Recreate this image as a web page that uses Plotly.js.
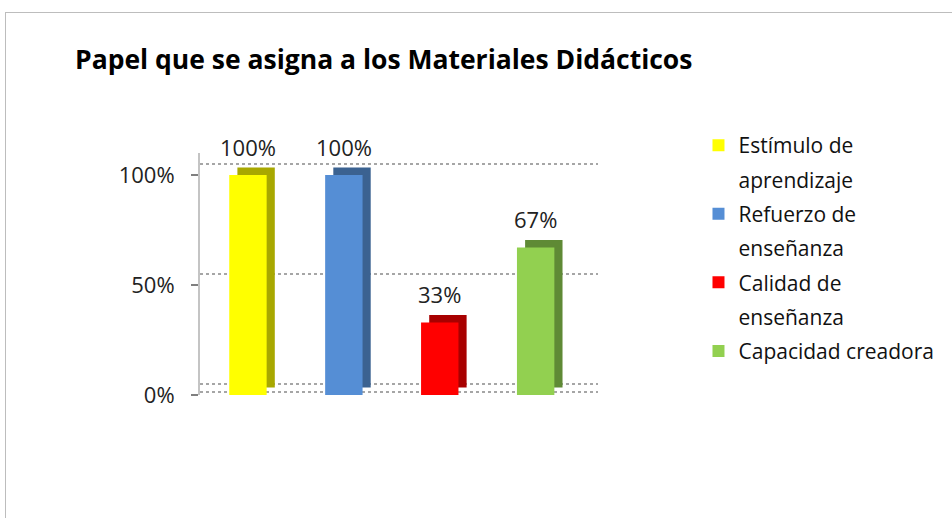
<!DOCTYPE html>
<html><head><meta charset="utf-8">
<script src="https://cdn.plot.ly/plotly-3.0.1.min.js"></script>
<style>
html,body{margin:0;padding:0;background:#fff;}
#frame{position:absolute;left:5px;top:12px;width:947px;height:506px;border-left:1px solid #bdbdbd;border-top:1px solid #bdbdbd;}
#chart{position:absolute;left:0;top:0;width:952px;height:518px;}
</style></head>
<body>
<div id="frame"></div>
<div id="chart"></div>
<script>
const categories = ["Estímulo de<br>aprendizaje", "Refuerzo de<br>enseñanza", "Calidad de<br>enseñanza", "Capacidad creadora"];
const values = [100, 100, 33, 67];
const labels = ["100%", "100%", "33%", "67%"];
const frontColors = ["#FFFF00", "#558ED5", "#FF0000", "#92D050"];
const sideColors = ["#A8A800", "#3B6291", "#A80000", "#5F8A35"];
const yTicks = [0, 50, 100];
const yTickText = ["0%", "50%", "100%"];

const W = 0.39, SHIFT = 0.085, DEPTH = 3.4;
const FONT = 'Open Sans';
const traces = [];
// side / top faces behind the bars
categories.forEach((c, i) => {
  traces.push({
    type: 'bar', x: [i], y: [values[i]], base: [DEPTH],
    width: W, offset: -W/2 + SHIFT,
    marker: {color: sideColors[i], line: {width: 0}},
    showlegend: false, hoverinfo: 'skip'
  });
});
// front faces; legend shows the first line of each name, continuation lines as text-only items
let rank = 1;
categories.forEach((c, i) => {
  const lines = c.split('<br>');
  traces.push({
    type: 'bar', x: [i], y: [values[i]], name: lines[0],
    width: W, offset: -W/2,
    marker: {color: frontColors[i], line: {width: 0}},
    legendgroup: 'g' + i + 'a', legendrank: rank++, hoverinfo: 'skip'
  });
  lines.slice(1).forEach((ln, k) => {
    traces.push({
      type: 'bar', x: [i], y: [0], name: ln, width: W, offset: -W/2,
      marker: {color: 'rgba(0,0,0,0)', line: {width: 0}},
      legendgroup: 'g' + i + 'b' + k, legendrank: rank++, hoverinfo: 'skip'
    });
  });
});
traces.push({type: 'scatter', x: [], y: [], yaxis: 'y2', showlegend: false, hoverinfo: 'skip'});
traces.push({type: 'scatter', x: [], y: [], yaxis: 'y3', showlegend: false, hoverinfo: 'skip'});

const annotations = values.map((v, i) => ({
  x: i, y: v + DEPTH, xref: 'x', yref: 'y', text: labels[i],
  showarrow: false, yanchor: 'bottom', yshift: 4,
  font: {family: FONT, size: 22, color: '#222'}
}));

const yRange = [0, 110];
const gridShift = 4.8;
const plotW = 404;
const layout = {
  width: 952, height: 518,
  paper_bgcolor: 'rgba(0,0,0,0)', plot_bgcolor: 'rgba(0,0,0,0)',
  margin: {l: 200, r: 952 - 200 - plotW, t: 153, b: 123},
  barmode: 'overlay',
  title: {text: 'Papel que se asigna a los Materiales Didácticos',
    font: {family: FONT, size: 26.5, color: '#000', weight: 'bold'},
    xref: 'container', yref: 'container', x: 75/952, xanchor: 'left', y: 1 - 60/518, yanchor: 'middle'},
  xaxis: {range: [-0.5, 3.65], showticklabels: false, showgrid: false, zeroline: false, showline: false, fixedrange: true},
  yaxis: {range: yRange, tickvals: yTicks, ticktext: yTickText,
    showgrid: false, zeroline: false,
    showline: true, linecolor: '#c4c4c4', linewidth: 2,
    ticks: 'outside', ticklen: 7, tickcolor: '#7f7f7f', tickwidth: 2, ticklabelstandoff: 12,
    tickfont: {family: FONT, size: 22, color: '#222'}, fixedrange: true},
  yaxis2: {overlaying: 'y', range: [yRange[0] - gridShift, yRange[1] - gridShift], tickvals: yTicks,
    showticklabels: false, ticks: '', showgrid: true, gridcolor: '#a6a6a6', gridwidth: 2, griddash: 'dot',
    zeroline: false, showline: false, fixedrange: true},
  yaxis3: {overlaying: 'y', range: [yRange[0] - 1.2, yRange[1] - 1.2], tickvals: [0],
    showticklabels: false, ticks: '', showgrid: true, gridcolor: '#a6a6a6', gridwidth: 2, griddash: 'dot',
    zeroline: false, showline: false, fixedrange: true},
  annotations: annotations,
  legend: {x: (706-200)/plotW, xanchor: 'left', y: 1 + 28/242, yanchor: 'top',
    font: {family: FONT, size: 21, color: '#111'}, tracegroupgap: 4,
    itemwidth: 30, bgcolor: 'rgba(0,0,0,0)'},
  showlegend: true
};
Plotly.newPlot('chart', traces, layout, {displayModeBar: false, staticPlot: true});
</script>
</body></html>
